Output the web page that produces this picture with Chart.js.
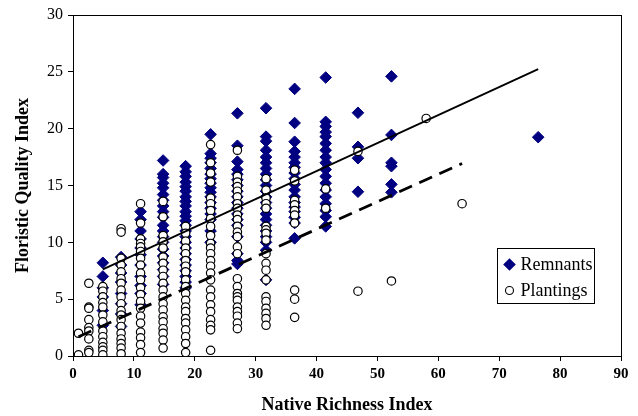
<!DOCTYPE html>
<html>
<head>
<meta charset="utf-8">
<script src="https://cdn.jsdelivr.net/npm/chart.js@4/dist/chart.umd.min.js"></script>
<style>
  html, body { margin: 0; padding: 0; background: #fff; }
  canvas { display: block; }
</style>
</head>
<body>
<canvas id="canvas" width="638" height="416"></canvas>
<script>
'use strict'

const remnantX = [4.9, 7.9, 11.1, 14.8, 18.5, 22.6, 27.0, 31.7, 36.4, 41.5, 46.8, 52.3, 76.4]
const remnantY = [
  [8.2, 7.0, 6.0, 5.2, 4.0, 2.7],
  [8.7, 8.0, 7.3, 6.5, 5.5, 4.6, 3.7, 2.6],
  [12.7, 12.0, 11.0, 10.3, 9.5, 8.9, 8.0, 7.0, 6.2, 5.5, 4.5],
  [17.2, 16.0, 15.7, 15.2, 14.8, 14.2, 13.7, 13.2, 12.7, 12.2, 11.5, 11.0, 10.5, 10.0, 9.4, 8.8, 8.2, 7.6, 7.0, 6.3],
  [16.7, 16.2, 15.8, 15.3, 14.9, 14.5, 14.0, 13.6, 13.2, 12.7, 12.3, 11.9, 11.5, 11.0, 10.5, 10.0, 9.5, 9.0, 8.5, 8.0, 7.5, 7.0, 6.5, 6.0],
  [19.5, 17.8, 17.4, 17.0, 16.5, 16.0, 15.6, 15.2, 14.8, 14.4, 14.0, 13.5, 13.0, 12.5, 12.0, 11.0, 10.0],
  [21.35, 18.5, 17.1, 16.4, 16.0, 15.5, 15.0, 14.5, 14.0, 13.5, 13.0, 12.5, 12.0, 11.5, 10.5, 9.0, 8.4, 8.1],
  [21.8, 19.3, 18.9, 18.1, 17.5, 17.0, 16.5, 16.0, 15.5, 15.0, 14.5, 14.0, 13.5, 13.0, 12.5, 12.0, 11.5, 11.0, 10.5, 10.0, 9.3, 6.7],
  [23.5, 20.5, 18.85, 18.0, 17.5, 17.0, 16.6, 16.1, 15.6, 15.1, 14.6, 14.0, 13.5, 13.1, 12.7, 12.2, 11.7, 10.35],
  [24.5, 20.6, 20.2, 19.7, 19.3, 18.7, 18.1, 17.5, 17.0, 16.4, 15.8, 15.2, 14.6, 14.0, 13.4, 12.8, 12.25, 11.4],
  [21.4, 18.4, 17.4, 14.45],
  [24.6, 19.45, 17.0, 16.7, 15.1, 14.4],
  [19.25]
]

const plantingX = [0.9, 2.6, 4.9, 7.9, 11.1, 14.8, 18.5, 22.6, 27.0, 31.7, 36.4, 41.5, 46.8, 52.3, 58.0, 63.9]
const plantingY = [
  [2.0, 0.1],
  [6.4, 4.3, 4.2, 3.2, 2.5, 2.2, 1.5, 0.5, 0.3],
  [6.1, 5.7, 5.2, 4.7, 4.3, 3.6, 3.0, 2.2, 1.7, 1.2, 0.8, 0.5, 0.1],
  [11.2, 10.9, 8.6, 8.0, 7.4, 6.8, 6.4, 5.8, 5.2, 4.6, 4.0, 3.6, 3.2, 2.6, 2.0, 1.5, 1.1, 0.7, 0.2],
  [13.4, 11.7, 10.3, 9.9, 9.6, 9.2, 8.6, 8.0, 7.3, 6.7, 6.0, 5.4, 4.8, 4.2, 3.5, 2.9, 2.1, 1.6, 1.0, 0.3],
  [13.6, 12.25, 10.6, 10.05, 9.5, 8.7, 8.15, 7.55, 7.0, 6.4, 5.8, 5.2, 4.6, 4.05, 3.45, 3.0, 2.4, 2.0, 1.4, 0.7],
  [11.4, 10.8, 10.1, 9.5, 9.0, 8.4, 7.9, 7.4, 6.7, 6.1, 5.5, 4.9, 4.3, 3.9, 3.3, 2.9, 2.3, 1.7, 1.1, 0.3],
  [18.6, 17.0, 16.1, 15.3, 13.9, 13.4, 12.8, 12.1, 11.4, 10.6, 9.9, 9.5, 9.0, 8.4, 7.9, 7.3, 6.7, 5.8, 5.2, 4.5, 3.9, 3.2, 2.7, 2.3, 0.5],
  [18.1, 15.8, 15.3, 14.9, 14.5, 14.0, 13.4, 13.0, 12.4, 12.0, 11.4, 10.9, 10.5, 9.6, 9.0, 6.8, 6.1, 5.5, 5.2, 4.9, 4.3, 3.9, 3.5, 2.9, 2.4],
  [15.6, 14.6, 13.9, 13.4, 13.0, 11.4, 11.1, 10.8, 10.2, 9.0, 8.15, 7.55, 6.7, 5.2, 4.8, 4.2, 3.75, 3.3, 2.7],
  [16.35, 15.4, 13.7, 13.3, 12.8, 12.4, 11.7, 5.8, 5.0, 3.4],
  [14.7, 13.0],
  [18.0, 5.7],
  [6.6],
  [20.9],
  [13.4]
]

// linear fits: [intercept, slope]
const remnantFit = [6.41, 0.2464]
const plantingFit = [1.47, 0.2421]

const xTicks = [0, 10, 20, 30, 40, 50, 60, 70, 80, 90]
const yTicks = [0, 5, 10, 15, 20, 25, 30]

const NAVY = '#000080'
const SERIF = "'Liberation Serif', 'Times New Roman', serif"

const toPoints = (xs, ys) => xs.flatMap((x, i) => ys[i].map(y => ({ x, y })))
const fitLine = (xs, fit) => {
  const lo = Math.min(...xs)
  const hi = Math.max(...xs)
  return [lo, hi].map(x => ({ x, y: fit[0] + fit[1] * x }))
}

const plotBox = {
  id: 'plotBox',
  afterDraw (chart) {
    const { ctx, chartArea: a } = chart
    ctx.save()
    ctx.strokeStyle = '#000'
    ctx.lineWidth = 1
    ctx.strokeRect(Math.round(a.left) + 0.5, Math.round(a.top) + 0.5,
      Math.round(a.right - a.left), Math.round(a.bottom - a.top))
    ctx.restore()
  }
}

// boxed legend in the lower right of the plot
const boxLegend = {
  id: 'boxLegend',
  afterDraw (chart) {
    const { ctx, chartArea: a } = chart
    const left = a.right - 123.5
    const top = a.bottom - 107.5
    ctx.save()
    ctx.fillStyle = '#fff'
    ctx.fillRect(left, top, 97, 55)
    ctx.strokeStyle = '#000'
    ctx.lineWidth = 1
    ctx.strokeRect(left, top, 97, 55)

    // diamond
    const dx = left + 12
    const dy = top + 16
    ctx.fillStyle = NAVY
    ctx.beginPath()
    ctx.moveTo(dx, dy - 6.3)
    ctx.lineTo(dx + 6.3, dy)
    ctx.lineTo(dx, dy + 6.3)
    ctx.lineTo(dx - 6.3, dy)
    ctx.closePath()
    ctx.fill()

    // circle
    ctx.beginPath()
    ctx.arc(dx, top + 42, 4, 0, Math.PI * 2)
    ctx.fillStyle = '#fff'
    ctx.fill()
    ctx.strokeStyle = '#000'
    ctx.lineWidth = 1.1
    ctx.stroke()

    ctx.fillStyle = '#000'
    ctx.font = '18px ' + SERIF
    ctx.textBaseline = 'middle'
    ctx.textAlign = 'left'
    chart.data.datasets.filter(d => d.inLegend).forEach((d, i) => {
      ctx.fillText(d.label, left + 23, top + 17 + i * 26)
    })
    ctx.restore()
  }
}

const ctx = document.getElementById('canvas').getContext('2d')
new Chart(ctx, {
  type: 'scatter',
  data: {
    datasets: [
      {
        label: 'Remnants fit',
        type: 'line',
        data: fitLine(remnantX, remnantFit),
        borderColor: '#000',
        borderWidth: 1.8,
        pointRadius: 0,
        fill: false,
        order: 0
      },
      {
        label: 'Plantings fit',
        type: 'line',
        data: fitLine(plantingX, plantingFit),
        borderColor: '#000',
        borderWidth: 2.8,
        borderDash: [14, 8],
        pointRadius: 0,
        fill: false,
        order: 0
      },
      {
        label: 'Remnants',
        inLegend: true,
        data: toPoints(remnantX, remnantY),
        pointStyle: 'rectRot',
        pointRadius: 5.8,
        backgroundColor: NAVY,
        borderColor: NAVY,
        borderWidth: 1,
        order: 2
      },
      {
        label: 'Plantings',
        inLegend: true,
        data: toPoints(plantingX, plantingY),
        pointStyle: 'circle',
        pointRadius: 4.2,
        backgroundColor: '#fff',
        borderColor: '#000',
        borderWidth: 1.2,
        order: 1
      }
    ]
  },
  options: {
    responsive: false,
    animation: false,
    devicePixelRatio: 1,
    layout: { padding: { top: 15, right: 17, bottom: 0, left: 0 } },
    plugins: {
      legend: { display: false },
      tooltip: { enabled: false }
    },
    scales: {
      x: {
        type: 'linear',
        min: xTicks[0],
        max: xTicks[xTicks.length - 1],
        afterBuildTicks: s => { s.ticks = xTicks.map(v => ({ value: v })) },
        afterFit: s => { s.height = 60; s.paddingLeft = 0; s.paddingRight = 0 },
        grid: { drawOnChartArea: false, drawTicks: true, tickLength: 5, color: '#000' },
        border: { display: true, color: '#000', width: 1 },
        ticks: { color: '#000', padding: 4, font: { family: SERIF, size: 15, weight: 'bold' } },
        title: {
          display: true,
          text: 'Native Richness Index',
          color: '#000',
          padding: { top: 0, bottom: 0 },
          font: { family: SERIF, size: 18, weight: 'bold' }
        }
      },
      y: {
        type: 'linear',
        min: yTicks[0],
        max: yTicks[yTicks.length - 1],
        afterBuildTicks: s => { s.ticks = yTicks.map(v => ({ value: v })) },
        afterFit: s => { s.width = 73; s.paddingTop = 0; s.paddingBottom = 0 },
        grid: { drawOnChartArea: false, drawTicks: true, tickLength: 5, color: '#000' },
        border: { display: true, color: '#000', width: 1 },
        ticks: { color: '#000', padding: 5, font: { family: SERIF, size: 16 } },
        title: {
          display: true,
          text: 'Floristic Quality Index',
          color: '#000',
          padding: { top: 13, bottom: 0 },
          font: { family: SERIF, size: 18, weight: 'bold' }
        }
      }
    }
  },
  plugins: [plotBox, boxLegend]
})
</script>
</body>
</html>
